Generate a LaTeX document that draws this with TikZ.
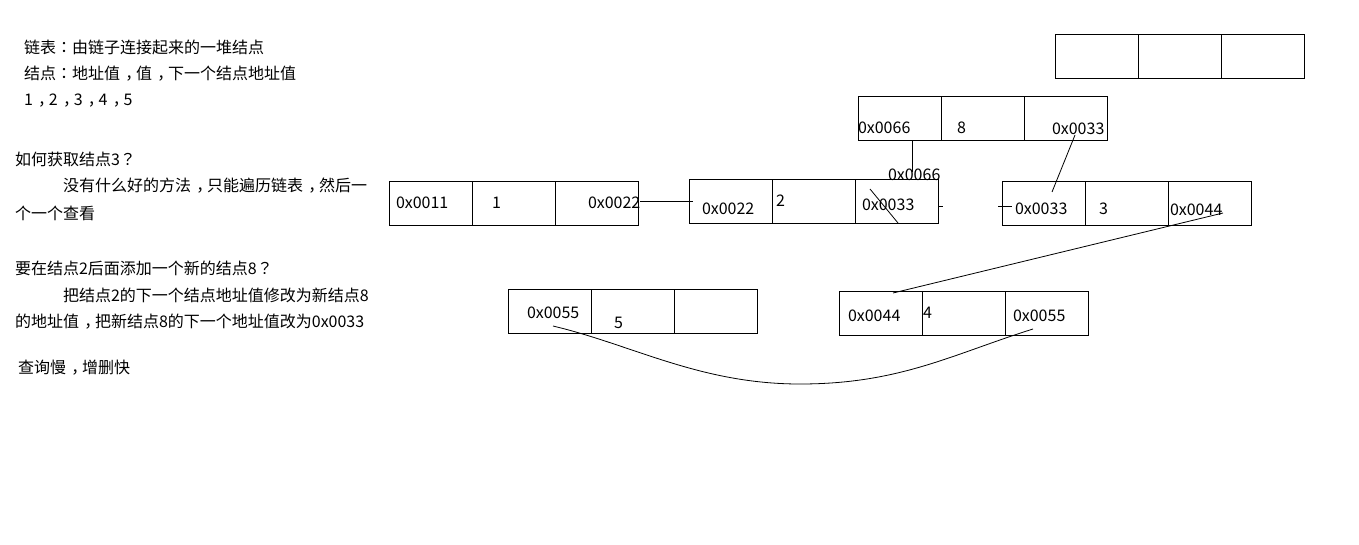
\documentclass[tikz,border=0pt]{standalone}
\usepackage{fontspec}
\setmainfont{Noto Sans CJK SC}
\newfontfamily\tcpunct{Noto Sans CJK TC}
\newcommand{\cnComma}{\hspace{0.33em}，\hspace{-0.33em}}
\newcommand{\cnColon}{{\tcpunct ：}}
\newcommand{\cnQ}{{\tcpunct ？}}
\newcommand{\llrow}[3]{%
  \node[cell] (#1a) at ({#2+41.5},{#3+22}) {};
  \node[cell] (#1b) at ({#2+124.5},{#3+22}) {};
  \node[cell] (#1c) at ({#2+207.5},{#3+22}) {};}
\begin{document}
\begin{tikzpicture}[x=1pt,y=-1pt,
  cell/.style={draw, line width=1pt, minimum width=83pt, minimum height=44pt, inner sep=0pt, outer sep=0pt},
  txt/.style={anchor=west, inner sep=0pt, outer sep=0pt, font=\fontsize{16pt}{20pt}\selectfont},
  link/.style={line width=0.8pt}]
\useasboundingbox (0,0) rectangle (1359,544);

% left notes
\node[txt] (n1) at (24,47) {链表\cnColon 由链子连接起来的一堆结点};
\node[txt] (n2) at (24,74) {结点\cnColon 地址值\cnComma 值\cnComma 下一个结点地址值};
\node[txt] (n3) at (24,101) {1\cnComma 2\cnComma 3\cnComma 4\cnComma 5};
\node[txt] (n4) at (15,159) {如何获取结点3\cnQ};
\node[txt] (n5) at (63,186) {没有什么好的方法\cnComma 只能遍历链表\cnComma 然后一};
\node[txt] (n6) at (15,213) {个一个查看};
\node[txt] (n7) at (15,268) {要在结点2后面添加一个新的结点8\cnQ};
\node[txt] (n8) at (63,295) {把结点2的下一个结点地址值修改为新结点8};
\node[txt] (n9) at (15,322) {的地址值\cnComma 把新结点8的下一个地址值改为0x0033};
\node[txt] (n10) at (18,368) {查询慢\cnComma 增删快};

% boxes
\llrow{be}{1055}{34}
\llrow{b8}{858}{96}
\llrow{bA}{389}{181}
\llrow{bB}{689}{179}
\llrow{bC}{1002}{181}
\llrow{bE}{508}{289}
\llrow{bD}{839}{291}

% box texts
\node[txt] (h8a) at (858,128) {0x0066};
\node[txt] (h8b) at (957,128) {8};
\node[txt] (h8c) at (1052,129) {0x0033};
\node[txt] (h1a) at (396,203) {0x0011};
\node[txt] (h1b) at (492,203) {1};
\node[txt] (h1c) at (588,203) {0x0022};
\node[txt] (h2a) at (702,209) {0x0022};
\node[txt] (h2b) at (776,201) {2};
\node[txt] (h2c) at (862,205) {0x0033};
\node[txt] (h66) at (888,175) {0x0066};
\node[txt] (h3a) at (1015,209) {0x0033};
\node[txt] (h3b) at (1099,209) {3};
\node[txt] (h3c) at (1170,210) {0x0044};
\node[txt] (h5a) at (527,313) {0x0055};
\node[txt] (h5b) at (614,323) {5};
\node[txt] (h4a) at (848,316) {0x0044};
\node[txt] (h4b) at (923,313) {4};
\node[txt] (h4c) at (1013,316) {0x0055};

% connector end points
\coordinate (p1s) at (640,201);
\coordinate (p1e) at (693,201);
\coordinate (p8s) at (912,141);
\coordinate (p8e) at (912,172);
\coordinate (xs) at (870,189);
\coordinate (xe) at (898,223);
\coordinate (t1s) at (939,206);
\coordinate (t1e) at (943,206);
\coordinate (t2s) at (998,206);
\coordinate (t2e) at (1012,206);
\coordinate (q8s) at (1075,135);
\coordinate (q8e) at (1052,192);
\coordinate (q3s) at (1223,213);
\coordinate (q3e) at (893,293);
\coordinate (c4s) at (1033,329);
\coordinate (cm) at (800,384);
\coordinate (c5e) at (553,326);

\draw[link] (p1s) -- (p1e);
\draw[link] (p8s) -- (p8e);
\draw[link] (xs) -- (xe);
\draw[link] (t1s) -- (t1e);
\draw[link] (t2s) -- (t2e);
\draw[link] (q8s) -- (q8e);
\draw[link] (q3s) -- (q3e);
\draw[link] (c5e) .. controls (633,345) and (700,384) .. (cm)
                  .. controls (900,384) and (953,354) .. (c4s);
\end{tikzpicture}
\end{document}
